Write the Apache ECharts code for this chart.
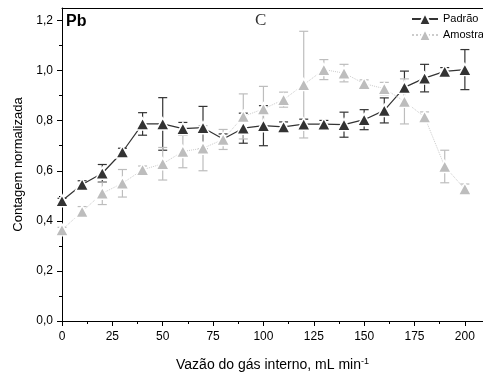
<!DOCTYPE html>
<html><head><meta charset="utf-8">
<script src="https://cdn.jsdelivr.net/npm/echarts@6/dist/echarts.min.js"></script>
<style>html,body{margin:0;padding:0;background:#fff}#c{width:483px;height:372px}</style>
</head><body><div id="c"></div>
<script>
const xValues = [0,10,20,30,40,50,60,70,80,90,100,110,120,130,140,150,160,170,180,190,200];
const padrao    = [0.48,0.545,0.59,0.675,0.787,0.787,0.768,0.772,0.727,0.77,0.78,0.775,0.786,0.786,0.784,0.804,0.841,0.933,0.97,0.997,1.004];
const padraoErr = [0.01,0.015,0.035,0.015,0.045,0.105,0.025,0.085,0.02,0.06,0.08,0.02,0.02,0.015,0.05,0.04,0.05,0.065,0.055,0.015,0.08];
const amostra    = [0.364,0.437,0.51,0.55,0.604,0.628,0.677,0.69,0.725,0.817,0.847,0.884,0.944,1.004,0.99,0.948,0.928,0.877,0.815,0.617,0.527];
const amostraErr = [0.01,0.02,0.045,0.055,0.015,0.065,0.065,0.09,0.04,0.09,0.09,0.03,0.213,0.04,0.035,0.015,0.025,0.09,0.02,0.065,0.02];
const xTicks = [0,25,50,75,100,125,150,175,200];
const xMinorTicks = [12.5,37.5,62.5,87.5,112.5,137.5,162.5,187.5];
const yTicks = [0,0.2,0.4,0.6,0.8,1.0,1.2];
const yMinorTicks = [0.1,0.3,0.5,0.7,0.9,1.1];
const seriesNames = ['Padrão','Amostra'];

const FONT = 'Arial, "Liberation Sans", sans-serif';
const DARK = '#333333', LIGHT = '#bdbdbd';
const chart = echarts.init(document.getElementById('c'), null, {renderer:'canvas'});

function errData(vals, errs){ return xValues.map((x,i)=>[x, vals[i]-errs[i], vals[i]+errs[i]]); }
function errSeries(vals, errs, color){
  return {
    type:'custom', z:1, silent:true, xAxisIndex:0, yAxisIndex:0,
    encode:{x:0, y:[1,2]},
    data: errData(vals, errs),
    renderItem(params, api){
      const x = api.value(0), lo = api.value(1), hi = api.value(2);
      const p1 = api.coord([x, hi]), p0 = api.coord([x, lo]);
      const w = 4.5;
      const st = {stroke: color, lineWidth: 1.2};
      return {type:'group', children:[
        {type:'line', shape:{x1:p0[0], y1:p0[1], x2:p1[0], y2:p1[1]}, style:st},
        {type:'line', shape:{x1:p1[0]-w, y1:p1[1], x2:p1[0]+w, y2:p1[1]}, style:st},
        {type:'line', shape:{x1:p0[0]-w, y1:p0[1], x2:p0[0]+w, y2:p0[1]}, style:st}
      ]};
    }
  };
}
const axisLineStyle = {color:'#000', width:1};
const option = {
  animation:false,
  backgroundColor:'#fff',
  grid:{left:62, right:0, top:8, bottom:51, containLabel:false, outerBoundsMode:'none'},
  legend:{
    data: seriesNames, orient:'vertical', left:411, top:12, padding:0,
    itemWidth:26, itemHeight:15, itemGap:2,
    textStyle:{fontSize:11, color:'#000', fontFamily:FONT}
  },
  graphic:[
    {type:'text', left:66, top:14, style:{text:'Pb', font:'bold 16px ' + FONT, fill:'#000'}},
    {type:'text', left:255, top:12, style:{text:'C', font:'17px "Liberation Serif", "Times New Roman", serif', fill:'#333'}}
  ],
  xAxis:[
    {type:'value', min:0, max:209, position:'bottom',
     axisLine:{show:true, lineStyle:axisLineStyle},
     axisTick:{show:true, customValues:xTicks, length:5, lineStyle:axisLineStyle},
     axisLabel:{customValues:xTicks, fontSize:12, color:'#000', margin:10, fontFamily:FONT},
     splitLine:{show:false},
     name:'Vazão do gás interno, mL min{sup|-1}', nameLocation:'middle', nameGap:36,
     nameTextStyle:{fontSize:14, color:'#000', fontFamily:FONT,
       rich:{sup:{fontSize:9, verticalAlign:'top', padding:[0,0,8,0], color:'#000', fontFamily:FONT}}}
    },
    {type:'value', min:0, max:209, position:'bottom',
     axisLine:{show:false},
     axisTick:{show:true, customValues:xMinorTicks, length:3, lineStyle:axisLineStyle},
     axisLabel:{show:false}, splitLine:{show:false}},
    {type:'value', min:0, max:209, position:'top',
     axisLine:{show:true, lineStyle:axisLineStyle},
     axisTick:{show:false}, axisLabel:{show:false}, splitLine:{show:false}}
  ],
  yAxis:[
    {type:'value', min:0, max:1.25, position:'left',
     axisLine:{show:true, lineStyle:axisLineStyle},
     axisTick:{show:true, customValues:yTicks, length:5, lineStyle:axisLineStyle},
     axisLabel:{customValues:yTicks, fontSize:12, color:'#000', margin:9, fontFamily:FONT,
       formatter:v => v.toFixed(1).replace('.', ',')},
     splitLine:{show:false},
     name:'Contagem normalizada', nameLocation:'middle', nameGap:37,
     nameTextStyle:{fontSize:13, color:'#000', fontFamily:FONT}
    },
    {type:'value', min:0, max:1.25, position:'left',
     axisLine:{show:false},
     axisTick:{show:true, customValues:yMinorTicks, length:3, lineStyle:axisLineStyle},
     axisLabel:{show:false}, splitLine:{show:false}}
  ],
  series:[
    errSeries(padrao, padraoErr, DARK),
    errSeries(amostra, amostraErr, LIGHT),
    {type:'line', name:'Padrão', xAxisIndex:0, yAxisIndex:0, z:3,
     data: xValues.map((x,i)=>[x, padrao[i]]),
     symbol:'triangle', symbolSize:[13,12], showAllSymbol:true,
     itemStyle:{color:DARK, borderColor:'#fff', borderWidth:1.5},
     lineStyle:{color:DARK, width:1.2}},
    {type:'line', name:'Amostra', xAxisIndex:0, yAxisIndex:0, z:4,
     data: xValues.map((x,i)=>[x, amostra[i]]),
     symbol:'triangle', symbolSize:[13,12], showAllSymbol:true,
     itemStyle:{color:LIGHT, borderColor:'#fff', borderWidth:1.5},
     lineStyle:{color:'#cccccc', width:1, type:'dotted'}}
  ]
};
chart.setOption(option);
</script>
</body></html>
